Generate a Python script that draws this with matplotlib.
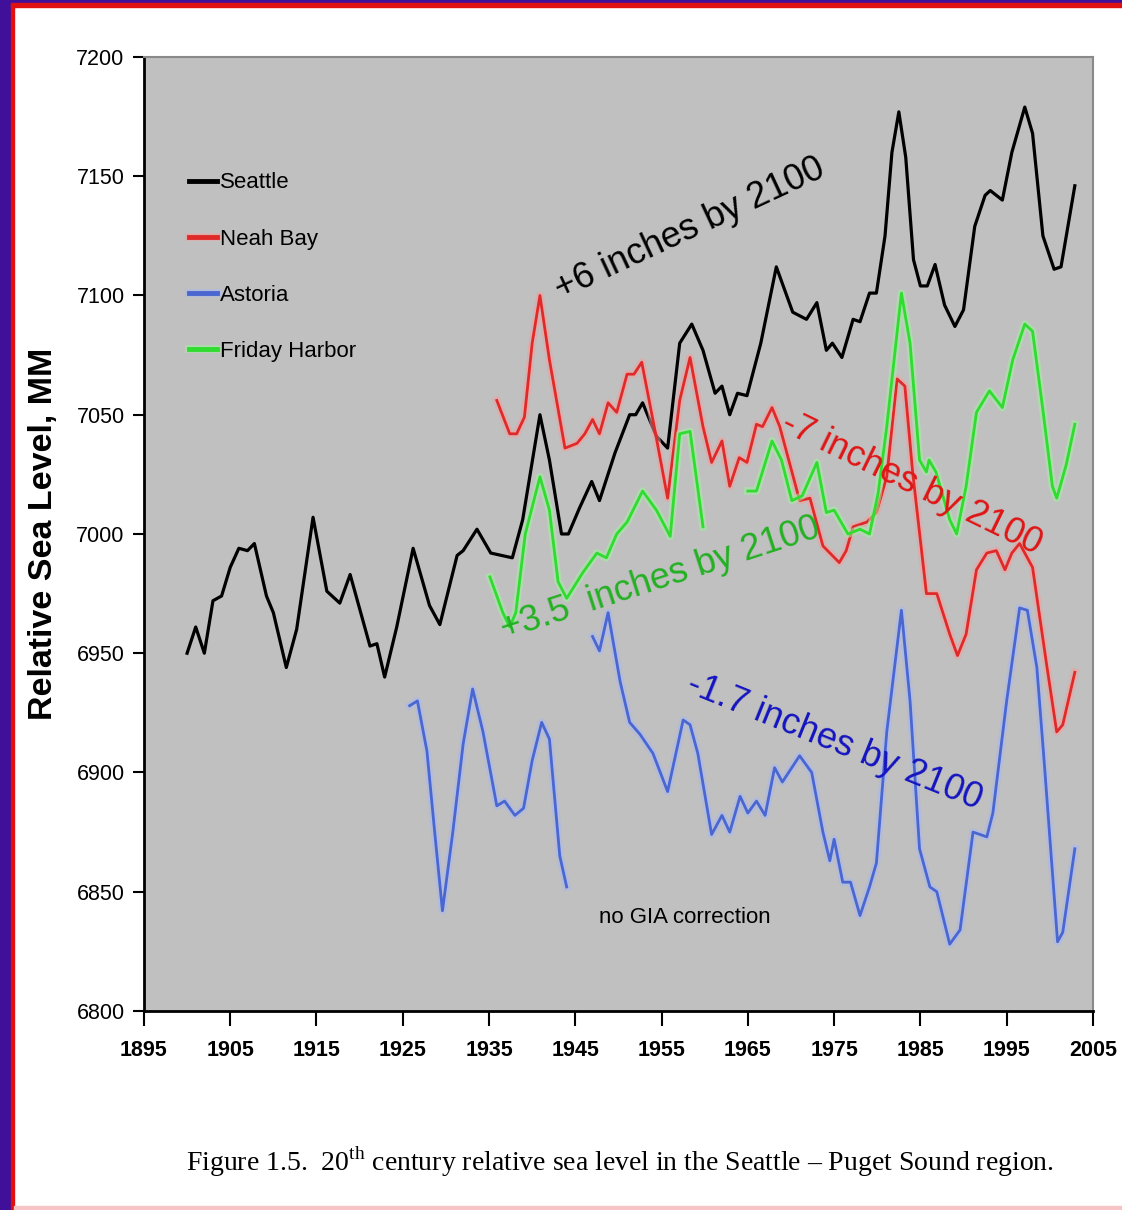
import numpy as np
import matplotlib
matplotlib.use('Agg')
import matplotlib.pyplot as plt
import matplotlib.patheffects as pe
from matplotlib.patches import Rectangle

# --- data (year, mm) ---
seattle_years = [1900.0, 1901.0, 1902.0, 1903.0, 1904.0, 1905.0, 1906.0, 1907.0, 1907.8, 1909.2,
                 1910.0, 1911.5, 1912.7, 1914.6, 1916.2, 1917.7, 1918.9, 1921.2, 1922.0, 1922.9,
                 1924.3, 1926.2, 1928.1, 1929.3, 1931.3, 1932.0, 1933.6, 1935.2, 1937.7, 1938.9,
                 1940.9, 1942.0, 1943.4, 1944.2, 1945.5, 1946.9, 1947.8, 1949.6, 1951.3, 1952.0,
                 1952.8, 1954.4, 1955.7, 1957.1, 1958.5, 1959.8, 1961.2, 1962.0, 1962.9, 1963.8,
                 1964.9, 1966.5, 1968.3, 1970.2, 1971.8, 1973.0, 1974.1, 1974.8, 1975.9, 1977.2,
                 1978.0, 1979.1, 1979.9, 1980.9, 1981.7, 1982.5, 1983.3, 1984.2, 1985.0, 1985.8,
                 1986.7, 1987.8, 1989.0, 1990.0, 1991.3, 1992.5, 1993.1, 1994.5, 1995.6, 1997.1,
                 1998.0, 1999.2, 2000.5, 2001.3, 2002.9]
seattle_vals = [6950, 6961, 6950, 6972, 6974, 6986, 6994, 6993, 6996, 6974,
                6967, 6944, 6960, 7007, 6976, 6971, 6983, 6953, 6954, 6940,
                6961, 6994, 6970, 6962, 6991, 6993, 7002, 6992, 6990, 7006,
                7050, 7031, 7000, 7000, 7011, 7022, 7014, 7034, 7050, 7050,
                7055, 7041, 7036, 7080, 7088, 7077, 7059, 7062, 7050, 7059,
                7058, 7080, 7112, 7093, 7090, 7097, 7077, 7080, 7074, 7090,
                7089, 7101, 7101, 7125, 7160, 7177, 7158, 7115, 7104, 7104,
                7113, 7096, 7087, 7094, 7129, 7142, 7144, 7140, 7160, 7179,
                7168, 7125, 7111, 7112, 7146]

neah_years = [1935.9, 1937.4, 1938.2, 1939.1, 1940.0, 1940.9, 1942.0, 1943.8, 1945.2, 1946.1,
              1947.0, 1947.8, 1948.8, 1949.8, 1951.0, 1951.8, 1952.7, 1954.2, 1955.7, 1957.1,
              1958.3, 1959.8, 1960.8, 1962.0, 1962.9, 1964.0, 1964.9, 1966.0, 1966.7, 1967.8,
              1968.7, 1971.0, 1972.2, 1973.7, 1975.6, 1976.4, 1977.2, 1978.8, 1979.9, 1981.1,
              1982.3, 1983.2, 1984.1, 1985.7, 1986.9, 1988.4, 1989.3, 1990.3, 1991.5, 1992.7,
              1993.8, 1994.8, 1995.6, 1996.5, 1998.0, 1999.6, 2000.8, 2001.5, 2002.9]
neah_vals = [7056, 7042, 7042, 7049, 7080, 7100, 7073, 7036, 7038, 7042,
             7048, 7042, 7055, 7051, 7067, 7067, 7072, 7044, 7015, 7056,
             7074, 7045, 7030, 7039, 7020, 7032, 7030, 7046, 7045, 7053,
             7045, 7014, 7015, 6995, 6988, 6993, 7003, 7005, 7009, 7024,
             7065, 7062, 7026, 6975, 6975, 6958, 6949, 6958, 6985, 6992,
             6993, 6985, 6992, 6996, 6986, 6946, 6917, 6920, 6942]

astoria_years = [1925.8, 1926.7, 1927.8, 1928.7, 1929.6, 1930.8, 1932.0, 1933.1, 1934.3, 1935.9,
                 1936.8, 1938.0, 1939.0, 1940.0, 1941.1, 1942.0, 1943.2, 1944.0, 1945.5,
                 1947.0, 1947.8, 1948.8, 1950.2, 1951.3, 1952.5, 1954.0, 1955.7, 1957.5, 1958.3,
                 1959.2, 1960.8, 1962.0, 1962.9, 1964.1, 1965.0, 1966.0, 1967.0, 1968.1, 1969.0,
                 1971.0, 1972.4, 1973.7, 1974.5, 1975.0, 1976.0, 1976.9, 1978.0, 1979.1, 1979.9,
                 1981.1, 1982.8, 1983.8, 1984.9, 1986.1, 1986.9, 1988.4, 1989.6, 1991.1, 1992.7,
                 1993.4, 1995.0, 1996.5, 1997.4, 1998.5, 1999.4, 2000.9, 2001.5, 2002.9]
astoria_vals = [6928, 6930, 6909, 6875, 6842, 6875, 6912, 6935, 6917, 6886,
                6888, 6882, 6885, 6905, 6921, 6914, 6865, 6852, np.nan,
                6957, 6951, 6967, 6938, 6921, 6916, 6908, 6892, 6922, 6920,
                6908, 6874, 6882, 6875, 6890, 6883, 6888, 6882, 6902, 6896,
                6907, 6900, 6875, 6863, 6872, 6854, 6854, 6840, 6852, 6862,
                6917, 6968, 6930, 6868, 6852, 6850, 6828, 6834, 6875, 6873,
                6883, 6930, 6969, 6968, 6944, 6902, 6829, 6833, 6868]

friday_years = [1935.1, 1936.6, 1937.4, 1938.1, 1939.2, 1940.9, 1942.0, 1943.0, 1944.0, 1945.9,
                1947.5, 1948.6, 1949.8, 1951.0, 1952.8, 1954.4, 1956.0, 1957.1, 1958.3, 1959.8,
                1962.0,
                1965.0, 1966.0, 1967.8, 1968.9, 1970.1, 1971.3, 1973.0, 1974.1, 1975.0, 1976.6,
                1978.0, 1979.1, 1980.1, 1981.1, 1982.8, 1983.8, 1984.9, 1985.7, 1986.0, 1986.8,
                1988.4, 1989.2, 1990.3, 1991.5, 1993.0, 1994.5, 1995.7, 1997.1, 1998.0, 1999.2,
                2000.3, 2000.8, 2001.9, 2002.9]
friday_vals = [6982, 6967, 6961, 6967, 7000, 7024, 7010, 6980, 6973, 6984,
               6992, 6990, 7000, 7005, 7018, 7010, 6999, 7042, 7043, 7003,
               np.nan,
               7018, 7018, 7039, 7031, 7014, 7016, 7030, 7009, 7010, 7000,
               7002, 7000, 7017, 7045, 7101, 7080, 7031, 7026, 7031, 7026,
               7006, 7000, 7020, 7051, 7060, 7053, 7073, 7088, 7085, 7052,
               7020, 7015, 7029, 7046]

year_ticks = list(range(1895, 2006, 10))
level_ticks = list(range(6800, 7201, 50))

sans = ['Liberation Sans', 'DejaVu Sans']
plt.rcParams['mathtext.fontset'] = 'custom'
plt.rcParams['mathtext.rm'] = 'Liberation Serif'

fig = plt.figure(figsize=(11.22, 12.10), dpi=100)
fig.patch.set_facecolor('white')
ax = fig.add_axes([0.1283, 0.1645, 0.8458, 0.7884])
ax.set_facecolor('#c0c0c0')

def glow(col):
    return [pe.Stroke(linewidth=5.5, foreground=col, alpha=0.55), pe.Normal()]

ax.plot(seattle_years, seattle_vals, color='black', lw=2.3, label='Seattle')
ax.plot(neah_years, neah_vals, color='#e02a2a', lw=2.0, label='Neah Bay',
        path_effects=glow('#f2a0a0'))
ax.plot(astoria_years, astoria_vals, color='#4a66d0', lw=2.0, label='Astoria',
        path_effects=glow('#a8b8f0'))
ax.plot(friday_years, friday_vals, color='#30dc30', lw=2.0, label='Friday Harbor',
        path_effects=glow('#a0f0a0'))

ax.set_xlim(1895, 2005)
ax.set_ylim(6800, 7200)
ax.set_xticks(year_ticks)
ax.set_yticks(level_ticks)
ax.tick_params(axis='y', direction='out', length=8, width=1.5, pad=6, labelsize=15.5)
ax.tick_params(axis='x', direction='out', length=11, width=1.5, pad=10, labelsize=15.5)
for lab in ax.get_yticklabels():
    lab.set_family(sans)
for lab in ax.get_xticklabels():
    lab.set_family(sans)
    lab.set_fontweight('bold')

for s in ['left', 'bottom']:
    ax.spines[s].set_color('black')
    ax.spines[s].set_linewidth(2.0)
for s in ['top', 'right']:
    ax.spines[s].set_color('#8a8a8a')
    ax.spines[s].set_linewidth(1.5)

ax.set_ylabel('Relative Sea Level, MM', fontsize=24.5, fontweight='bold', family=sans)
ax.yaxis.set_label_coords(-0.089, 0.5)

leg = ax.legend(loc='upper left', bbox_to_anchor=(0.047, 0.879), frameon=False,
                borderpad=0, borderaxespad=0, handlelength=1.3, handletextpad=0.12,
                labelspacing=1.58, prop={'family': sans, 'size': 16})
for h in leg.get_lines():
    h.set_linewidth(3.5)

# trend annotations
ax.text(1958.3, 7128, '+6 inches by 2100', color='black', fontsize=26, rotation=25,
        rotation_mode='anchor', ha='center', va='center', family=sans)
ax.text(1984.0, 7021, '-7 inches by 2100', color='#e01515', fontsize=26, rotation=-26,
        rotation_mode='anchor', ha='center', va='center', family=sans)
ax.text(1954.8, 6981, '+3.5  inches by 2100', color='#22b022', fontsize=26, rotation=18,
        rotation_mode='anchor', ha='center', va='center', family=sans)
ax.text(1975.1, 6913, '-1.7 inches by 2100', color='#1414c0', fontsize=26, rotation=-22,
        rotation_mode='anchor', ha='center', va='center', family=sans)
ax.text(1957.7, 6839, 'no GIA correction', color='black', fontsize=16,
        ha='center', va='center', family=sans)

fig.text(0.5526, 0.0397,
         'Figure 1.5.  20$^{\\rm th}$ century relative sea level in the Seattle \u2013 Puget Sound region.',
         ha='center', va='center', fontsize=20, family=['Liberation Serif', 'DejaVu Serif'])

# slide frame
W, H = 1122, 1210
fig.add_artist(Rectangle((0, 0), 11 / W, 1, transform=fig.transFigure, color='#40109a', zorder=10))
fig.add_artist(Rectangle((11 / W, 0), 3 / W, 1, transform=fig.transFigure, color='#e01010', zorder=10))
fig.add_artist(Rectangle((0, 1 - 3 / H), 1, 3 / H, transform=fig.transFigure, color='#40109a', zorder=10))
fig.add_artist(Rectangle((11 / W, 1 - 7 / H), 1, 4 / H, transform=fig.transFigure, color='#e01010', zorder=10))
fig.add_artist(Rectangle((14 / W, 0), 1, 4 / H, transform=fig.transFigure, color='#f6c4c4', zorder=10))

fig.savefig('out.png', dpi=100)
